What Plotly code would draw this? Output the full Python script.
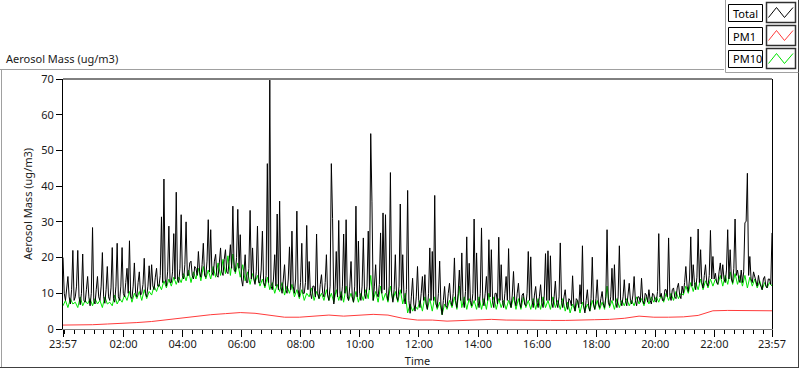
import pandas as pd
import plotly.graph_objects as go

# ---------------- data ----------------
series_names = ["Total", "PM1", "PM10"]
tick_labels = ["23:57", "02:00", "04:00", "06:00", "08:00", "10:00", "12:00",
               "14:00", "16:00", "18:00", "20:00", "22:00", "23:57"]
y_ticks = [0, 10, 20, 30, 40, 50, 60, 70]

# Total, 2.5-minute samples starting 23:57 (one row per hour)
total = [
    20, 10, 8, 12, 14.7, 9, 7, 11, 22, 8, 9, 12, 22, 9, 6.8, 10, 21, 8, 7.5, 11, 14.7, 9, 6.5, 10,
    28.4, 8, 7, 11, 14.7, 9, 8, 12, 21.4, 9, 7.2, 11, 17.5, 9, 8, 11.5, 22.8, 8.5, 7.5, 12, 24, 9, 8, 12,
    22.8, 10, 9, 13, 17, 10, 24.7, 9, 8.5, 12, 18.5, 10, 9, 13, 16, 9.5, 10, 12.5, 19.8, 10, 9, 12, 17.7, 11,
    18, 12, 11, 14.5, 17, 12, 12, 15, 31.4, 13, 42, 14, 12, 16, 28.8, 13, 13, 16, 26.7, 14, 38.3, 14, 13, 17,
    32, 15, 14, 18, 30, 15, 15, 18.5, 19, 15, 14, 17.5, 17, 15, 21.7, 16, 14.5, 18, 24, 15, 14.5, 19, 30.6, 16,
    27.8, 16, 15, 19, 20.9, 15, 14.5, 18.5, 22.7, 16, 15, 19.5, 22.2, 16, 15.5, 19, 23.6, 17, 34.4, 16.5, 16, 20, 33.5, 17,
    26.4, 14, 12, 16, 20.8, 13, 13, 17, 33.2, 14, 22.7, 14, 12.5, 16, 28.8, 13, 13, 16.5, 27.4, 13, 12, 15, 46.3, 13,
    69.7, 12, 11, 14, 20.8, 12, 32.2, 11, 35.8, 12, 10, 14, 18, 11, 10, 14, 23, 11, 27.4, 12, 10, 14, 33, 11,
    9, 13, 24, 10, 10, 13, 29, 11, 18.9, 10, 8.5, 12, 12, 9, 26.6, 10, 8.5, 12.5, 15.2, 10, 9, 13, 20.8, 9.5,
    8, 12, 46.3, 31, 7, 11, 21.7, 9, 30.4, 10, 8, 12, 26.6, 10, 30.6, 9, 8, 12, 18.9, 9, 7.5, 12, 34.4, 9,
    24.6, 10, 8, 12, 25.5, 10, 8.5, 12, 27.4, 11, 54.7, 35.6, 8, 12, 18, 10, 9, 12.5, 26.9, 10, 32.5, 11, 32, 10,
    8, 12, 43.8, 10, 7.5, 11, 20.8, 9, 8, 12, 35, 10, 20.8, 9, 7, 11, 38.8, 8, 4.4, 9, 14.2, 7, 5, 9,
    17.5, 8, 6, 10, 14.7, 8, 15.2, 7, 5.5, 10, 22.7, 8, 21.7, 8, 37.4, 7, 6, 10, 19, 7, 4, 8, 11.9, 6.5,
    6, 10, 12.8, 8, 6.5, 10, 19.9, 8, 6, 10, 16.5, 8, 21.3, 8, 6, 10.5, 25.8, 8, 18.4, 8, 6.5, 10, 30.8, 8,
    21.3, 8, 6, 10, 28.3, 8, 6.5, 10, 14.7, 8, 25, 9, 22.2, 8, 6, 10, 10, 7, 25.7, 8, 18, 8, 6, 10,
    14.7, 8, 22.5, 8, 6, 9.5, 16.1, 8, 6.5, 10, 12.8, 7.5, 6, 9.5, 10, 7, 6.5, 10, 21.7, 8, 20.2, 8, 6, 9.5,
    11.9, 7.5, 6, 9, 12.4, 7.5, 6, 9.5, 21.1, 8, 21.9, 8, 20.5, 7.5, 6, 9, 13.4, 7.5, 6, 9, 24.1, 8, 6, 9,
    11, 7, 5.5, 8.5, 8, 6.5, 14.9, 7, 5, 8.5, 8, 6, 12.4, 7, 23.3, 6.5, 4.5, 8, 11, 6.5, 5, 8.5, 20.1, 7,
    5.5, 8.5, 13.8, 7, 6, 8.5, 10.5, 7, 6, 9, 27.8, 7.5, 6.5, 9, 17, 8, 18, 7.5, 6, 9, 23.3, 8, 6.5, 9,
    13.8, 8, 6.5, 9.5, 12.8, 8, 7, 9.5, 14.7, 8, 6.5, 9, 9, 7.5, 14.2, 8, 7, 10, 9.5, 7.5, 11, 8, 7, 10,
    9.6, 8, 7.5, 10.5, 26.7, 9, 10, 8, 8, 11, 11, 9, 25.5, 9.5, 8, 11, 11.5, 9, 8.5, 11.5, 12.8, 9.5, 8.5, 12,
    10, 13, 17.5, 12, 10.5, 14, 25.8, 12, 18, 13, 11, 14.5, 28, 13, 22.2, 13, 11.5, 15, 18, 13, 12, 15, 27.6, 14,
    20.3, 14, 15.6, 13, 12.5, 16, 18.5, 14, 18, 14, 13, 16.5, 27.8, 14, 22.2, 14, 13, 17, 30.8, 15, 16.5, 14, 13, 16.5,
    13, 16, 29.7, 30.2, 43.6, 15, 20.3, 14, 13, 16, 14.7, 13, 12, 15, 12.8, 12, 11, 14, 14.7, 12, 11.5, 14, 14, 12.5,
    26.9,
]

# PM10, 5-minute samples starting 23:57 (one row per hour)
pm10 = [
    6.5, 8, 6, 8.5, 7, 7.5, 6, 9, 6.5, 8, 7, 8.5,
    6.5, 8.5, 7, 8, 6, 9, 7, 7.5, 6.5, 9.5, 7, 8.5,
    7.5, 9.5, 8, 10.5, 7.5, 10, 8.5, 10.5, 8, 11, 8.5, 10.5,
    9.5, 12, 10.5, 12.5, 11, 13.5, 11.5, 14, 12, 14.5, 12.5, 14.5,
    13, 15.5, 13.5, 16.5, 13, 16, 14, 17, 13.5, 17.5, 14, 16.5,
    14, 17.5, 14.5, 18.5, 15, 19.5, 15.5, 20.5, 15, 21, 15.5, 18.5,
    14.5, 18, 13.5, 16, 12.5, 15.5, 13, 15, 12, 14, 11.5, 14.5,
    11, 13, 10, 12.5, 10.5, 13, 9.5, 12, 10, 12.5, 9, 11,
    8.5, 11, 8, 10, 9, 11.5, 8, 10.5, 8.5, 10, 8, 11,
    8, 10, 7.5, 11, 8, 10.5, 7.5, 12, 8, 10, 7.5, 10.5,
    7.5, 10, 8, 11, 8.5, 15, 8, 10.5, 7.5, 12, 8, 10,
    7.5, 12, 8, 10.5, 7.5, 11, 7, 10, 4.5, 7, 5, 6.5,
    5.5, 8, 5, 9, 5.5, 8.5, 5, 9, 5.5, 7.5, 4, 7,
    5.5, 8, 6, 9, 5.5, 12, 6, 9, 5.5, 8.5, 6, 8,
    5.5, 9, 5.5, 8.5, 5.5, 10, 6, 9, 5.5, 8.5, 6, 8,
    5.5, 8, 6, 9, 5.5, 8.5, 5.5, 9, 6, 8, 5.5, 8.5,
    5.5, 8.5, 5.5, 9, 6, 8, 5.5, 9, 6, 8, 5.5, 8.5,
    5, 7.5, 4.5, 7, 5, 8, 4.5, 7.5, 5, 7, 5, 8,
    5.5, 8, 5.5, 7.5, 5.5, 12, 6, 8, 5.5, 8.5, 6, 8,
    6.5, 8.5, 6.5, 8, 6.5, 9, 7, 8.5, 6.5, 9, 7, 9,
    7.5, 9, 7.5, 9.5, 7.5, 10, 8, 10, 8, 10.5, 8.5, 10,
    9.5, 12, 10, 13, 10.5, 13, 11, 14, 11, 13.5, 11.5, 14,
    12, 14, 12.5, 15, 12, 15, 12.5, 16, 12.5, 15.5, 12.5, 15,
    12, 15, 11.5, 14.5, 12, 14, 11.5, 13.5, 11, 13, 11.5, 13,
    12,
]

# PM1, 30-minute samples starting 23:57
pm1 = [1.1, 1.1, 1.2, 1.4, 1.5, 1.8, 2.1, 2.6, 3.1, 3.6, 4.0, 4.3, 4.6, 4.4,
       3.8, 3.3, 3.3, 3.6, 3.9, 3.6, 3.8, 4.1, 3.9, 3.0, 2.5, 2.5, 2.2, 2.4,
       2.5, 2.7, 2.5, 2.4, 2.5, 2.4, 2.4, 2.6, 2.6, 2.7, 3.0, 3.6, 3.3, 3.3,
       3.4, 3.8, 5.1, 5.2, 5.2, 5.1, 5.1]

start = pd.Timestamp("2024-01-01 23:57")
end = start + pd.Timedelta(hours=24)
t_total = pd.date_range(start, end, periods=len(total))
t_pm10 = pd.date_range(start, end, periods=len(pm10))
t_pm1 = pd.date_range(start, end, periods=len(pm1))
tick_vals = [start] + [pd.Timestamp("2024-01-02 " + s) for s in tick_labels[1:-1]] + [end]

# ---------------- figure ----------------
W, H = 800, 369
ML, MR, MT, MB = 63, 28, 79, 40
PW, PH = W - ML - MR, H - MT - MB


def px(x):
    return (x - ML) / PW


def py(y):
    return (H - MB - y) / PH


FONT = "Noto Sans"
FS = 11
colors = {"Total": "#000000", "PM1": "#ff3b3b", "PM10": "#00e400"}

fig = go.Figure()
fig.add_trace(go.Scatter(x=t_pm1, y=pm1, mode="lines", name="PM1",
                         line=dict(color=colors["PM1"], width=1)))
fig.add_trace(go.Scatter(x=t_pm10, y=pm10, mode="lines", name="PM10",
                         line=dict(color=colors["PM10"], width=1)))
fig.add_trace(go.Scatter(x=t_total, y=total, mode="lines", name="Total",
                         line=dict(color=colors["Total"], width=1)))

fig.update_layout(
    width=W, height=H,
    margin=dict(l=ML, r=MR, t=MT, b=MB, pad=0, autoexpand=False),
    paper_bgcolor="white", plot_bgcolor="white",
    showlegend=False,
    font=dict(family=FONT, size=FS, color="#1a1a1a"),
    xaxis=dict(
        range=[start, end], tickmode="array", tickvals=tick_vals, ticktext=tick_labels,
        ticks="outside", ticklen=7, tickwidth=1, tickcolor="#000",
        ticklabelstandoff=-2, automargin=False,
        showline=True, linecolor="#808080", linewidth=1, mirror=False,
        showgrid=False, zeroline=False,
        tickfont=dict(size=FS),
        minor=dict(ticks="outside", ticklen=4, tickcolor="#000",
                   dtick=20 * 60 * 1000, tick0="2024-01-02 00:00", showgrid=False),
        title=dict(text="Time", standoff=7, font=dict(size=FS)),
    ),
    yaxis=dict(
        range=[0, 70], tickmode="array", tickvals=y_ticks,
        ticks="outside", ticklen=6, tickcolor="#000",
        automargin=False,
        showline=True, linecolor="#000", linewidth=1, mirror=True,
        showgrid=False, zeroline=False,
        tickfont=dict(size=FS),
        title=dict(text="Aerosol Mass (ug/m3)", standoff=6, font=dict(size=FS)),
    ),
)

shapes = []
# plot top border
shapes.append(dict(type="line", xref="paper", yref="paper", x0=0, x1=1, y0=1, y1=1,
                   line=dict(color="#000", width=1)))
# outer frame
frame_gray = "#a0a0a0"
frame_dark = "#404040"
shapes.append(dict(type="line", xref="paper", yref="paper", x0=px(0), x1=px(724),
                   y0=py(69.5), y1=py(69.5), line=dict(color=frame_gray, width=1)))
shapes.append(dict(type="line", xref="paper", yref="paper", x0=px(1.5), x1=px(1.5),
                   y0=py(69.5), y1=py(367.5), line=dict(color=frame_gray, width=1)))
shapes.append(dict(type="line", xref="paper", yref="paper", x0=px(0), x1=px(799),
                   y0=py(367.5), y1=py(367.5), line=dict(color=frame_dark, width=1)))
shapes.append(dict(type="line", xref="paper", yref="paper", x0=px(798.5), x1=px(798.5),
                   y0=py(0), y1=py(368), line=dict(color=frame_dark, width=1)))
shapes.append(dict(type="line", xref="paper", yref="paper", x0=px(725.5), x1=px(725.5),
                   y0=py(0), y1=py(72.5), line=dict(color=frame_gray, width=1)))
shapes.append(dict(type="line", xref="paper", yref="paper", x0=px(725.5), x1=px(798.5),
                   y0=py(72.5), y1=py(72.5), line=dict(color=frame_gray, width=1)))

annotations = [
    dict(text="Aerosol Mass (ug/m3)", xref="paper", yref="paper", x=px(4), y=py(59),
         xanchor="left", yanchor="middle", showarrow=False, font=dict(size=FS)),
]

# legend rows
for i, name in enumerate(series_names):
    top = 3 + i * 23
    # label box
    shapes.append(dict(type="rect", xref="paper", yref="paper",
                       x0=px(728.5), x1=px(762.5), y0=py(top + 1.5), y1=py(top + 18.5),
                       line=dict(color="#000", width=1), fillcolor="white"))
    annotations.append(dict(text=name, xref="paper", yref="paper", x=px(730.5), y=py(top + 10),
                            xanchor="left", yanchor="middle", showarrow=False,
                            font=dict(size=FS, color="#000")))
    # icon box
    shapes.append(dict(type="rect", xref="paper", yref="paper",
                       x0=px(766.5), x1=px(795.5), y0=py(top - 0.5), y1=py(top + 19.5),
                       line=dict(color="#303030", width=1.5), fillcolor="white"))
    pts = [(768.5, top + 14.5), (776.5, top + 4.5), (784.5, top + 14.5), (793, top + 4.5)]
    path = "M " + " L ".join(f"{px(a):.5f},{py(b):.5f}" for a, b in pts)
    shapes.append(dict(type="path", xref="paper", yref="paper", path=path,
                       line=dict(color=colors[name], width=1)))

fig.update_layout(shapes=shapes, annotations=annotations)

fig.write_html(
    "out.html",
    config={"displayModeBar": False},
    post_script="document.body.style.margin='0px';document.body.style.overflow='hidden';",
)
